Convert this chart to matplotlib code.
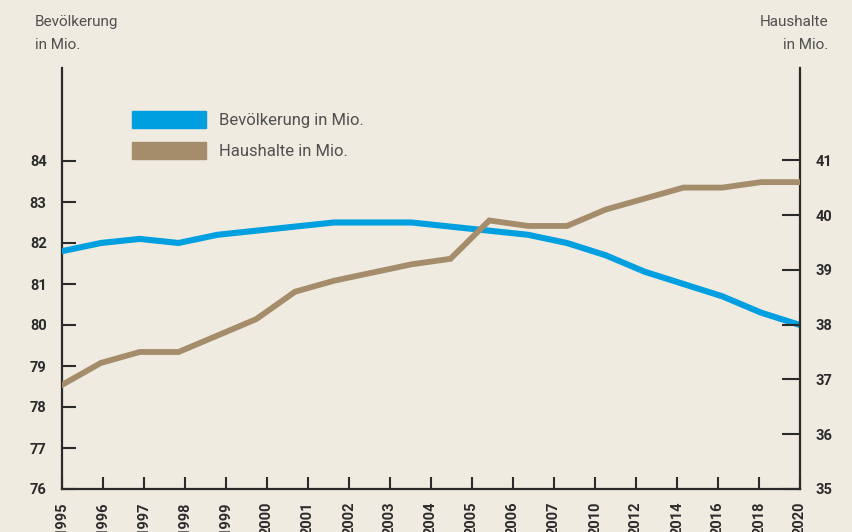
import numpy as np
import matplotlib
matplotlib.use("Agg")
import matplotlib.pyplot as plt
import matplotlib.patches as mpatches

# data
years = ["1995", "1996", "1997", "1998", "1999", "2000", "2001", "2002", "2003", "2004",
         "2005", "2006", "2007", "2010", "2012", "2014", "2016", "2018", "2020"]
bevoelkerung = [81.8, 82.0, 82.1, 82.0, 82.2, 82.3, 82.4, 82.5, 82.5, 82.5,
                82.4, 82.3, 82.2, 82.0, 81.7, 81.3, 81.0, 80.7, 80.3, 80.0]
haushalte = [36.9, 37.3, 37.5, 37.5, 37.8, 38.1, 38.6, 38.8, 38.95, 39.1,
             39.2, 39.9, 39.8, 39.8, 40.1, 40.3, 40.5, 40.5, 40.6, 40.6]
left_ticks = [76, 77, 78, 79, 80, 81, 82, 83, 84]
right_ticks = [35, 36, 37, 38, 39, 40, 41]

bg = "#f0ebe1"
blue = "#009fe0"
brown = "#a58d6c"
dark = "#2b2b2b"
grey = "#505050"

plt.rcParams['font.family'] = ['Roboto', 'DejaVu Sans']

fig = plt.figure(figsize=(8.52, 5.32), dpi=100, facecolor=bg)
ax = fig.add_axes([62/852, 1-489/532, (800-62)/852, (489-68)/532])
ax.set_facecolor(bg)
ax2 = ax.twinx()

n = len(bevoelkerung)
xs = np.arange(n)
ax.plot(xs, bevoelkerung, color=blue, lw=4.4, solid_joinstyle='miter', zorder=3)
ax2.plot(xs, haushalte, color=brown, lw=4.2, solid_joinstyle='miter', zorder=3)

ax.set_xlim(0, n - 1)
ax.set_ylim(76, 76 + (489-68)/41.0)
ax2.set_ylim(35, 35 + (489-68)/54.8)

ax.set_xticks(np.linspace(0, n - 1, len(years)))
ax.set_xticklabels(years, rotation=90, va='top', ha='center')
ax.set_yticks(left_ticks)
ax2.set_yticks(right_ticks)

for s in ['top', 'right']:
    ax.spines[s].set_visible(False)
for s in ['top', 'left', 'bottom']:
    ax2.spines[s].set_visible(False)
for sp in [ax.spines['left'], ax.spines['bottom'], ax2.spines['right']]:
    sp.set_color(dark)
    sp.set_linewidth(1.6)

ax.tick_params(axis='x', direction='in', length=9, width=1.5, color=dark,
               labelsize=10.5, labelcolor=dark, pad=9)
ax.tick_params(axis='y', direction='in', length=10, width=1.5, color=dark,
               labelsize=10.5, labelcolor=dark, pad=11)
ax2.tick_params(axis='y', direction='in', length=13, width=1.5, color=dark,
                labelsize=10.5, labelcolor=dark, pad=11)
for lab in ax.get_xticklabels() + ax.get_yticklabels() + ax2.get_yticklabels():
    lab.set_fontweight('bold')

fig.text(35/852, 1-15/532, "Bevölkerung\nin Mio.", ha='left', va='top',
         fontsize=11, color=grey, linespacing=1.85)
fig.text(828/852, 1-15/532, "Haushalte\nin Mio.", ha='right', va='top',
         fontsize=11, color=grey, linespacing=1.85)

handles = [mpatches.Patch(color=blue, label="Bevölkerung in Mio."),
           mpatches.Patch(color=brown, label="Haushalte in Mio.")]
leg = ax.legend(handles=handles, loc='upper left', bbox_to_anchor=(132/852, 1-111/532),
                bbox_transform=fig.transFigure, frameon=False, fontsize=12,
                handlelength=4.45, handleheight=1.2, handletextpad=0.75,
                labelspacing=0.85, borderpad=0, borderaxespad=0)
for t in leg.get_texts():
    t.set_color(grey)

fig.savefig("out.png", dpi=100, facecolor=bg)
